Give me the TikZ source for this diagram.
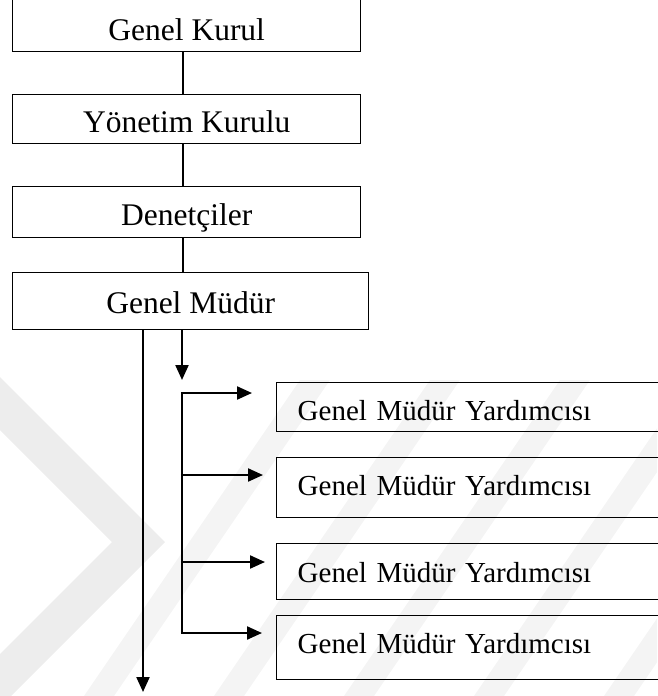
\documentclass[tikz,border=0pt]{standalone}
\usepackage{fontspec}
\setmainfont{Liberation Serif}
\usetikzlibrary{arrows.meta}
\definecolor{wm}{gray}{0.93}
\definecolor{wmlight}{gray}{0.955}
\begin{document}
\begin{tikzpicture}[x=1pt,y=-1pt,
  base/.style={draw, line width=1.4pt, inner xsep=0pt, inner ysep=0pt,
    anchor=north west, font=\fontsize{31.5}{36}\selectfont},
  topbox/.style={base, minimum width=348pt},
  subbox/.style={base, inner xsep=21pt, text width=345pt, align=left, text height=38pt,
    font=\fontsize{29}{34}\selectfont},
  link/.style={line width=1.1pt},
  bus/.style={line width=2.2pt},
  arr/.style={line width=2.2pt, -{Triangle[length=15pt,width=13pt]}}
]
\useasboundingbox (0,0) rectangle (657,696);

% faint background bands
\begin{scope}
  \clip (0,0) rectangle (657,696);
  \fill[wm] (0,377) -- (165,542) -- (0,707) -- (0,654) -- (112,542) -- (0,430) -- cycle;
  \foreach \s in {0,130,260,390,520} {
    \fill[wmlight] (300+\s,380) -- (330+\s,380) -- (114+\s,696) -- (84+\s,696) -- cycle;
  }
\end{scope}

% board and management chain
\node[topbox, text height=41pt, text depth=11pt] (gk) at (12,-1) {Genel Kurul};
\node[topbox, text height=38pt, text depth=11pt] (yk) at (12,94) {Yönetim Kurulu};
\node[topbox, text height=39pt, text depth=12pt] (dn) at (12,186) {Denetçiler};
\node[base, minimum width=356pt, text height=41pt, text depth=16pt] (gm) at (12,272) {Genel Müdür};

\coordinate (spine) at (183,0);
\draw[link] (gk.south -| spine) -- (yk.north -| spine);
\draw[link] (yk.south -| spine) -- (dn.north -| spine);
\draw[link] (dn.south -| spine) -- (gm.north -| spine);

% deputy general managers
\node[subbox, text depth=11pt] (ga) at (276,382) {Genel Müdür Yardımcısı};
\node[subbox, text depth=22pt] (gb) at (276,457) {Genel Müdür Yardımcısı};
\node[subbox, text depth=17pt, text height=39pt] (gc) at (276,543) {Genel Müdür Yardımcısı};
\node[subbox, text depth=26pt] (gd) at (276,615) {Genel Müdür Yardımcısı};

% arrows out of the general manager
\coordinate (lend) at (143,692);
\coordinate (send) at (182,380);
\draw[arr] (gm.south -| lend) -- (lend);
\draw[arr] (gm.south -| send) -- (send);

% distribution bus to the deputies
\coordinate (b1) at (182,393);
\coordinate (b2) at (182,475);
\coordinate (b3) at (182,562);
\coordinate (b4) at (182,633);
\draw[bus] ([yshift=-1.1pt]b1) -- ([yshift=1.1pt]b4);
\draw[arr, shorten >=24pt] ([xshift=-1.1pt]b1) -- (b1 -| ga.west);
\draw[arr, shorten >=13pt] ([xshift=-1.1pt]b2) -- (b2 -| gb.west);
\draw[arr, shorten >=11pt] ([xshift=-1.1pt]b3) -- (b3 -| gc.west);
\draw[arr, shorten >=14pt] ([xshift=-1.1pt]b4) -- (b4 -| gd.west);
\end{tikzpicture}
\end{document}
